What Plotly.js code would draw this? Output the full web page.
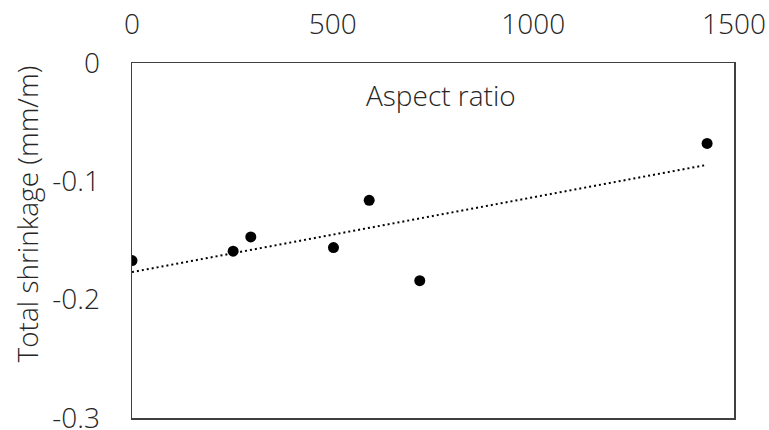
<!DOCTYPE html>
<html>
<head>
<meta charset="utf-8">
<script src="https://cdn.plot.ly/plotly-3.0.1.min.js"></script>
<style>html,body{margin:0;padding:0;background:#fff;}#chart{width:769px;height:430px;}</style>
</head>
<body>
<div id="chart"></div>
<script>
// Data
const aspectRatio = [0, 252, 296, 502, 591, 717, 1433];
const totalShrinkage = [-0.167, -0.159, -0.147, -0.156, -0.116, -0.184, -0.068];
const xTickVals = [0, 500, 1000, 1500];
const xTickText = ['0', '500', '1000', '1500'];
const yTickVals = [0, -0.1, -0.2, -0.3];
const yTickText = ['0', '-0.1', '-0.2', '-0.3'];
const yTitle = 'Total shrinkage (mm/m)';
const panelLabel = 'Aspect ratio';

// Linear least-squares trendline over the data range (as Excel's linear trendline)
function linFit(xs, ys) {
  const n = xs.length;
  const mx = xs.reduce((a, b) => a + b, 0) / n;
  const my = ys.reduce((a, b) => a + b, 0) / n;
  let sxy = 0, sxx = 0;
  for (let i = 0; i < n; i++) { sxy += (xs[i] - mx) * (ys[i] - my); sxx += (xs[i] - mx) ** 2; }
  const m = sxy / sxx;
  return { m: m, b: my - m * mx };
}
const fit = linFit(aspectRatio, totalShrinkage);
const trendX = [Math.min(...aspectRatio), Math.max(...aspectRatio)];
const trendY = trendX.map(x => fit.m * x + fit.b);

const textColor = '#262626';
const fontFam = '"Open Sans", "Noto Sans", sans-serif';
const fs = 28;

const traces = [
  {
    x: trendX, y: trendY, type: 'scatter', mode: 'lines',
    line: { color: '#000', width: 2, dash: '2px,3px' },
    hoverinfo: 'skip', showlegend: false
  },
  {
    x: aspectRatio, y: totalShrinkage, type: 'scatter', mode: 'markers',
    marker: { color: '#000', size: 11 },
    showlegend: false
  }
];

const layout = {
  width: 769, height: 430,
  margin: { l: 131.5, r: 35, t: 63, b: 12 },
  paper_bgcolor: '#fff', plot_bgcolor: '#fff',
  font: { family: fontFam, color: textColor, size: fs, weight: 300 },
  xaxis: {
    side: 'top', range: [0, 1500], tickvals: xTickVals, ticktext: xTickText,
    showgrid: false, zeroline: false, showline: true, mirror: true,
    linecolor: '#404040', linewidth: 1.5,
    ticks: 'outside', ticklen: 16, tickcolor: 'rgba(0,0,0,0)',
    ticklabeloverflow: 'allow',
    tickfont: { family: fontFam, size: fs, color: textColor, weight: 300 }
  },
  yaxis: {
    range: [-0.30001, 0.00001], tickvals: yTickVals, ticktext: yTickText,
    showgrid: false, zeroline: false, showline: true, mirror: true,
    linecolor: '#404040', linewidth: 1.5,
    ticks: 'outside', ticklen: 25, tickcolor: 'rgba(0,0,0,0)',
    ticklabeloverflow: 'allow',
    tickfont: { family: fontFam, size: fs, color: textColor, weight: 300 }
  },
  annotations: [
    {
      text: panelLabel, xref: 'paper', yref: 'paper', x: 0.514, y: 0.91,
      xanchor: 'center', yanchor: 'middle', showarrow: false,
      font: { family: fontFam, size: fs, color: textColor, weight: 300 }
    },
    {
      text: yTitle, xref: 'paper', yref: 'paper', x: -0.175, y: 0.575,
      xanchor: 'center', yanchor: 'middle', showarrow: false, textangle: -90,
      font: { family: fontFam, size: fs, color: textColor, weight: 300 }
    }
  ]
};

Plotly.newPlot('chart', traces, layout, { displayModeBar: false, staticPlot: true });
</script>
</body>
</html>
